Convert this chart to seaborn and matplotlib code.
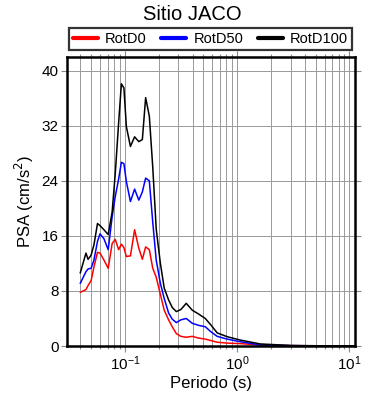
import numpy as np
import pandas as pd
import matplotlib
matplotlib.use("Agg")
import matplotlib.pyplot as plt
from matplotlib.lines import Line2D
from matplotlib.ticker import LogLocator, FixedLocator
import seaborn as sns

periods = [0.04, 0.045, 0.047, 0.05, 0.053, 0.057, 0.06, 0.065, 0.071, 0.077,
           0.082, 0.088, 0.093, 0.098, 0.103, 0.112, 0.122, 0.133, 0.143, 0.153,
           0.165, 0.177, 0.19, 0.207, 0.224, 0.245, 0.264, 0.287, 0.315, 0.352,
           0.398, 0.453, 0.52, 0.58, 0.664, 0.815, 1.06, 1.6, 3.0, 5.5, 11.0]

rotd0 = [7.8, 8.2, 8.8, 9.5, 11.5, 13.6, 13.5, 12.5, 11.3, 14.9,
         15.5, 14.0, 14.8, 14.3, 13.0, 13.1, 16.9, 14.2, 12.6, 14.4,
         14.0, 11.3, 10.0, 7.5, 5.2, 3.8, 2.8, 1.8, 1.4, 1.27,
         1.4, 1.15, 1.0, 0.8, 0.55, 0.42, 0.35, 0.15, 0.05, 0.02, 0.01]

rotd50 = [9.1, 10.8, 11.2, 11.3, 12.5, 15.2, 16.3, 15.6, 14.0, 18.8,
          21.7, 24.3, 26.7, 26.5, 23.9, 21.0, 22.8, 21.2, 22.4, 24.4,
          24.0, 18.0, 12.5, 9.1, 6.9, 4.8, 3.9, 3.4, 3.8, 4.0,
          3.3, 3.0, 2.8, 2.1, 1.4, 1.0, 0.63, 0.15, 0.05, 0.02, 0.01]

rotd100 = [10.6, 13.5, 12.6, 13.2, 14.7, 17.8, 17.5, 16.9, 16.2, 19.5,
           25.0, 32.5, 38.1, 37.5, 31.9, 29.0, 30.4, 29.7, 30.0, 36.1,
           33.4, 26.0, 17.0, 12.0, 8.4, 6.7, 5.6, 5.0, 5.3, 6.2,
           5.2, 4.65, 4.0, 3.1, 1.9, 1.35, 0.87, 0.3, 0.08, 0.03, 0.01]

series_names = ["RotD0", "RotD50", "RotD100"]
series_colors = ["red", "blue", "black"]
y_ticks = [0, 8, 16, 24, 32, 40]

df = pd.concat([
    pd.DataFrame({"T": periods, "PSA": vals, "comp": name})
    for name, vals in zip(series_names, [rotd0, rotd50, rotd100])
])

sns.set_style("ticks")
plt.rcParams["font.family"] = ["Liberation Sans", "DejaVu Sans"]
plt.rcParams["text.color"] = "black"
plt.rcParams["axes.labelcolor"] = "black"
plt.rcParams["xtick.labelcolor"] = "black"
plt.rcParams["ytick.labelcolor"] = "black"

fig = plt.figure(figsize=(3.9, 4.0), dpi=100)
ax = fig.add_axes([67/390, 54/400, 288/390, 289/400])

sns.lineplot(data=df, x="T", y="PSA", hue="comp", palette=dict(zip(series_names, series_colors)),
             ax=ax, linewidth=1.1, legend=False, sort=False)

ax.set_xscale("log")
ax.set_xlim(0.0305, 11.2)
ax.set_ylim(0, 42)
ax.xaxis.set_major_locator(LogLocator(base=10, numticks=10))
ax.xaxis.set_minor_locator(LogLocator(base=10, subs=np.arange(2, 10), numticks=20))
ax.yaxis.set_major_locator(FixedLocator(y_ticks))

ax.grid(True, which="both", axis="x", color="#999999", linewidth=0.7)
ax.grid(True, which="major", axis="y", color="#999999", linewidth=0.7)

for s in ax.spines.values():
    s.set_linewidth(1.8)
    s.set_color("black")
    s.set_zorder(5)

ax.tick_params(axis="both", which="major", direction="out", length=4, width=0.8,
               color="#888888", labelsize=11, top=True, right=True, pad=2,
               labelcolor="black")
ax.tick_params(axis="x", which="minor", direction="out", length=2.5, width=0.8,
               color="#888888", top=True)

ax.set_xlabel("Periodo (s)", fontsize=12, labelpad=2, color="black")
ax.set_ylabel("PSA (cm/s$^2$)", fontsize=12, labelpad=4, color="black")

fig.text(192/390, 1 - 14/400, "Sitio JACO", ha="center", va="center", fontsize=14.5,
         color="black")

handles = [Line2D([0], [0], color=c, lw=3) for c in series_colors]
leg = fig.legend(handles, series_names, loc="center", bbox_to_anchor=(210.5/390, 1 - 39/400),
                 ncol=3, frameon=True, fancybox=False, fontsize=10.5, handlelength=1.7,
                 columnspacing=1.0, handletextpad=0.5, borderpad=0.3, borderaxespad=0)
leg.get_frame().set_edgecolor("black")
leg.get_frame().set_linewidth(1.6)
for t in leg.get_texts():
    t.set_color("black")

fig.savefig("out.png", dpi=100)
